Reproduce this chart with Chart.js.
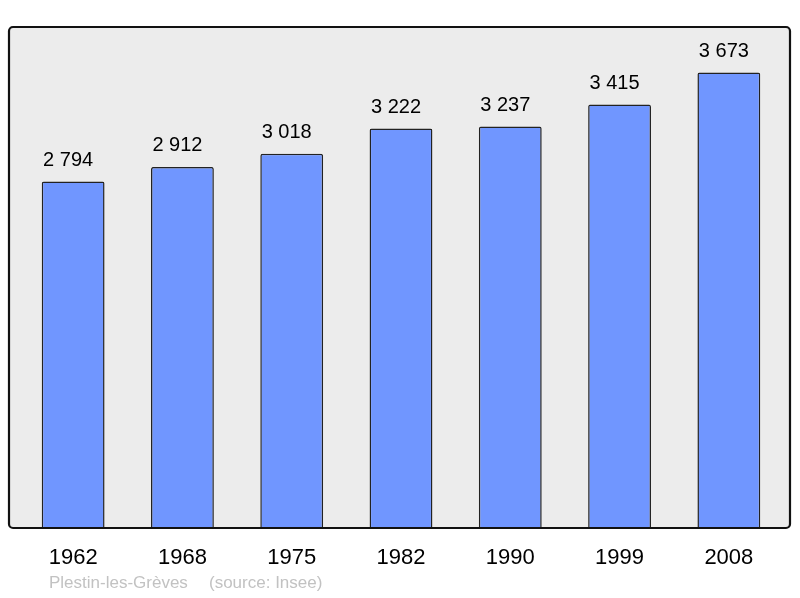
<!DOCTYPE html>
<html>
<head>
<meta charset="utf-8">
<script src="https://cdn.jsdelivr.net/npm/chart.js@4/dist/chart.umd.min.js"></script>
<style>
  body { margin: 0; background: #fff; }
  #wrap { position: relative; width: 800px; height: 598px; }
  .foot { position: absolute; top: 573px; font: 17px "Liberation Sans", Arial, sans-serif; color: #c2c2c2; white-space: pre; }
</style>
</head>
<body>
<div id="wrap">
  <canvas id="pop" width="800" height="598"></canvas>
  <span class="foot" style="left:49px">Plestin-les-Grèves</span>
  <span class="foot" style="left:209px">(source: Insee)</span>
</div>
<script>
const years = ['1962', '1968', '1975', '1982', '1990', '1999', '2008'];
const population = [2794, 2912, 3018, 3222, 3237, 3415, 3673];

// gray rounded panel behind the bars
const panel = {
    id: 'panel',
    beforeDraw(chart) {
        const { ctx, chartArea } = chart;
        ctx.save();
        ctx.beginPath();
        ctx.roundRect(9, chartArea.top, 781, chartArea.bottom - chartArea.top, 4);
        ctx.fillStyle = '#ececec';
        ctx.fill();
        ctx.restore();
    },
    afterDatasetsDraw(chart) {
        const { ctx, chartArea } = chart;
        ctx.save();
        ctx.beginPath();
        ctx.roundRect(9, chartArea.top, 781, chartArea.bottom - chartArea.top, 4);
        ctx.lineWidth = 2.2;
        ctx.strokeStyle = '#111';
        ctx.stroke();

        // value labels above each bar
        ctx.fillStyle = '#000';
        ctx.font = '20px "Liberation Sans", Arial, sans-serif';
        ctx.textAlign = 'center';
        ctx.textBaseline = 'alphabetic';
        const meta = chart.getDatasetMeta(0);
        meta.data.forEach((bar, i) => {
            const v = population[i];
            const txt = Math.floor(v / 1000) + ' ' + String(v % 1000).padStart(3, '0');
            ctx.fillText(txt, bar.x - 5, bar.y - 15.5);
        });
        ctx.restore();
    }
};

const data = {
    labels: years,
    datasets: [{
        data: population,
        backgroundColor: 'rgb(112, 150, 255)',
        borderColor: '#222',
        borderWidth: 1.5,
        borderSkipped: 'bottom',
        borderRadius: { topLeft: 2, topRight: 2 },
        barPercentage: 0.575,
        categoryPercentage: 1
    }]
};

const config = {
    type: 'bar',
    data: data,
    options: {
        responsive: false,
        animation: false,
        layout: { padding: { left: 18.5, right: 16.5, top: 27, bottom: 0 } },
        plugins: { legend: { display: false }, tooltip: { enabled: false } },
        scales: {
            y: { display: false, min: 0, max: 4040 },
            x: {
                grid: { display: false, drawTicks: false },
                border: { display: false },
                ticks: {
                    color: '#000',
                    padding: 17,
                    font: { family: '"Liberation Sans", Arial, sans-serif', size: 22 }
                },
                afterFit(scale) { scale.height = 70; }
            }
        }
    },
    plugins: [panel]
};

const chartPop = new Chart(document.getElementById('pop'), config);
</script>
</body>
</html>
